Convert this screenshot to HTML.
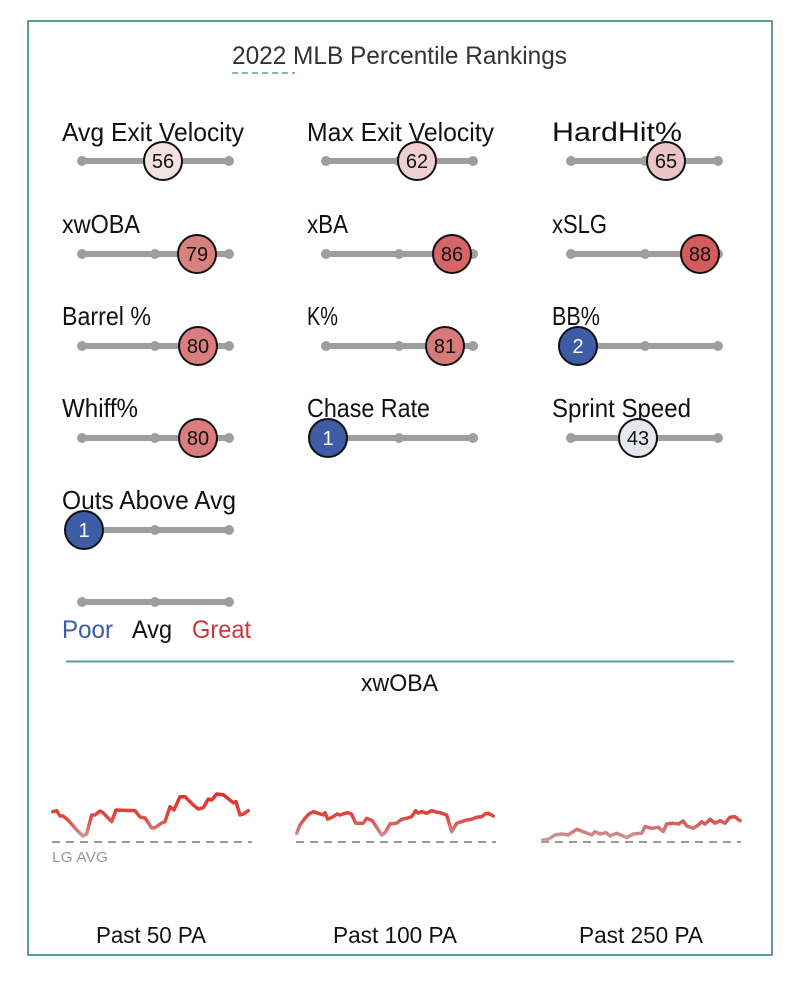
<!DOCTYPE html>
<html><head><meta charset="utf-8">
<style>
html,body{margin:0;padding:0;background:#fff;}
svg{display:block;}
text{font-family:"Liberation Sans Narrow","Liberation Sans",sans-serif;}
</style></head>
<body>
<svg width="801" height="986" viewBox="0 0 801 986" xmlns="http://www.w3.org/2000/svg">
<defs>
<linearGradient id="g1" gradientUnits="userSpaceOnUse" x1="0" y1="795" x2="0" y2="840">
<stop offset="0" stop-color="#e3302a"/><stop offset="0.5" stop-color="#dc4a42"/><stop offset="1" stop-color="#c99ea4"/>
</linearGradient>
</defs>
<rect x="28" y="21" width="744" height="934" fill="#fff" stroke="#5e9aa1" stroke-width="2"/>
<text x="232" y="64" font-size="25" fill="#333" textLength="335" lengthAdjust="spacingAndGlyphs">2022 MLB Percentile Rankings</text>
<line x1="232" y1="73" x2="295" y2="73" stroke="#5e9aa1" stroke-width="1.5" stroke-dasharray="6,4"/>

<g font-size="26" fill="#111">
<text x="62" y="141" textLength="182" lengthAdjust="spacingAndGlyphs">Avg Exit Velocity</text>
<text x="307" y="141" textLength="187" lengthAdjust="spacingAndGlyphs">Max Exit Velocity</text>
<text x="552" y="141" font-size="27" textLength="130" lengthAdjust="spacingAndGlyphs">HardHit%</text>
<text x="62" y="233" textLength="78" lengthAdjust="spacingAndGlyphs">xwOBA</text>
<text x="307" y="233" textLength="41" lengthAdjust="spacingAndGlyphs">xBA</text>
<text x="552" y="233" textLength="55" lengthAdjust="spacingAndGlyphs">xSLG</text>
<text x="62" y="325" textLength="89" lengthAdjust="spacingAndGlyphs">Barrel %</text>
<text x="307" y="325" textLength="31" lengthAdjust="spacingAndGlyphs">K%</text>
<text x="552" y="325" textLength="48" lengthAdjust="spacingAndGlyphs">BB%</text>
<text x="62" y="417" textLength="76" lengthAdjust="spacingAndGlyphs">Whiff%</text>
<text x="307" y="417" textLength="123" lengthAdjust="spacingAndGlyphs">Chase Rate</text>
<text x="552" y="417" textLength="139" lengthAdjust="spacingAndGlyphs">Sprint Speed</text>
<text x="62" y="509" textLength="174" lengthAdjust="spacingAndGlyphs">Outs Above Avg</text>
</g>

<g stroke="#9e9e9e" stroke-width="6" fill="#9e9e9e">
<line x1="82" y1="161" x2="229" y2="161"/><line x1="326" y1="161" x2="473" y2="161"/><line x1="571" y1="161" x2="718" y2="161"/>
<line x1="82" y1="254" x2="229" y2="254"/><line x1="326" y1="254" x2="473" y2="254"/><line x1="571" y1="254" x2="718" y2="254"/>
<line x1="82" y1="346" x2="229" y2="346"/><line x1="326" y1="346" x2="473" y2="346"/><line x1="571" y1="346" x2="718" y2="346"/>
<line x1="82" y1="438" x2="229" y2="438"/><line x1="326" y1="438" x2="473" y2="438"/><line x1="571" y1="438" x2="718" y2="438"/>
<line x1="82" y1="530" x2="229" y2="530"/>
<line x1="82" y1="602" x2="229" y2="602"/>
</g>
<g fill="#9e9e9e">
<circle cx="82" cy="161" r="5"/><circle cx="155" cy="161" r="5"/><circle cx="229" cy="161" r="5"/>
<circle cx="326" cy="161" r="5"/><circle cx="399" cy="161" r="5"/><circle cx="473" cy="161" r="5"/>
<circle cx="571" cy="161" r="5"/><circle cx="645" cy="161" r="5"/><circle cx="718" cy="161" r="5"/>
<circle cx="82" cy="254" r="5"/><circle cx="155" cy="254" r="5"/><circle cx="229" cy="254" r="5"/>
<circle cx="326" cy="254" r="5"/><circle cx="399" cy="254" r="5"/><circle cx="473" cy="254" r="5"/>
<circle cx="571" cy="254" r="5"/><circle cx="645" cy="254" r="5"/><circle cx="718" cy="254" r="5"/>
<circle cx="82" cy="346" r="5"/><circle cx="155" cy="346" r="5"/><circle cx="229" cy="346" r="5"/>
<circle cx="326" cy="346" r="5"/><circle cx="399" cy="346" r="5"/><circle cx="473" cy="346" r="5"/>
<circle cx="571" cy="346" r="5"/><circle cx="645" cy="346" r="5"/><circle cx="718" cy="346" r="5"/>
<circle cx="82" cy="438" r="5"/><circle cx="155" cy="438" r="5"/><circle cx="229" cy="438" r="5"/>
<circle cx="326" cy="438" r="5"/><circle cx="399" cy="438" r="5"/><circle cx="473" cy="438" r="5"/>
<circle cx="571" cy="438" r="5"/><circle cx="645" cy="438" r="5"/><circle cx="718" cy="438" r="5"/>
<circle cx="82" cy="530" r="5"/><circle cx="155" cy="530" r="5"/><circle cx="229" cy="530" r="5"/>
<circle cx="82" cy="602" r="5"/><circle cx="155" cy="602" r="5"/><circle cx="229" cy="602" r="5"/>
</g>

<g stroke="#111" stroke-width="2">
<circle cx="163" cy="161" r="19" fill="#f4e1e1"/>
<circle cx="417" cy="161" r="19" fill="#efd0d1"/>
<circle cx="666" cy="161" r="19" fill="#ebc4c5"/>
<circle cx="197" cy="254" r="19" fill="#d98081"/>
<circle cx="452" cy="254" r="19" fill="#d56566"/>
<circle cx="700" cy="254" r="19" fill="#d45b5b"/>
<circle cx="198" cy="346" r="19" fill="#d97d7e"/>
<circle cx="445" cy="346" r="19" fill="#d8797a"/>
<circle cx="578" cy="346" r="19" fill="#3d5ca5"/>
<circle cx="198" cy="438" r="19" fill="#d97d7e"/>
<circle cx="328" cy="438" r="19" fill="#3d5ca5"/>
<circle cx="638" cy="438" r="19" fill="#e6e7ef"/>
<circle cx="84" cy="530" r="19" fill="#3d5ca5"/>
</g>
<g font-size="20" text-anchor="middle" fill="#111">
<text x="163" y="168">56</text>
<text x="417" y="168">62</text>
<text x="666" y="168">65</text>
<text x="197" y="261">79</text>
<text x="452" y="261">86</text>
<text x="700" y="261">88</text>
<text x="198" y="353">80</text>
<text x="445" y="353">81</text>
<text x="578" y="353" fill="#fff">2</text>
<text x="198" y="445">80</text>
<text x="328" y="445" fill="#fff">1</text>
<text x="638" y="445">43</text>
<text x="84" y="537" fill="#fff">1</text>
</g>

<g font-size="25">
<text x="62" y="638" fill="#3d5ca5" textLength="51" lengthAdjust="spacingAndGlyphs">Poor</text>
<text x="132" y="638" fill="#111" textLength="40" lengthAdjust="spacingAndGlyphs">Avg</text>
<text x="192" y="638" fill="#c8383a" textLength="59" lengthAdjust="spacingAndGlyphs">Great</text>
</g>

<line x1="66" y1="661.5" x2="734" y2="661.5" stroke="#5e9aa1" stroke-width="2"/>
<text x="361" y="691" font-size="24" fill="#111" textLength="77" lengthAdjust="spacingAndGlyphs">xwOBA</text>

<g stroke="#999" stroke-width="2" stroke-dasharray="8,6">
<line x1="52" y1="842" x2="252" y2="842"/>
<line x1="296" y1="842" x2="496" y2="842"/>
<line x1="541" y1="842" x2="741" y2="842"/>
</g>
<text x="52" y="862" font-size="15" fill="#999" textLength="56" lengthAdjust="spacingAndGlyphs">LG AVG</text>

<g fill="none" stroke="url(#g1)" stroke-width="3.5" stroke-linejoin="round" stroke-linecap="round">
<polyline points="52.7,811.7 56.7,810.7 60,816 63,816 68,820 76.7,830 83,836 86.7,834 91.7,815 95,815 100,811 103,812.7 111.7,821.7 116,810 135,810.7 140,817 145,818 151.7,828 155,827.7 161.7,823 165,821.7 170,806.7 174,810 180,796.7 185,796.7 193.3,805 198.3,809 203.3,807.7 208.3,799 211.7,800 216.7,794 223.3,794.7 233.3,802.7 236,801.7 240,815 243.3,814 248.3,810.7"/>
<polyline points="296.7,833.3 300,825 305,818.3 309,814 313.3,811.7 318.3,813.3 323.3,815 325,812.7 327.7,819.3 333.3,816.7 337,814 340,815 345,813.3 348.3,812.7 351.7,814.3 355.7,823.3 363.3,823.3 366.7,818.3 372.3,820.7 381.7,835 385,832.7 390,824 396.7,823.3 401.7,819.3 406.7,818.3 411.7,816.7 415.7,810.7 418,813 421.7,811.7 426.7,813.3 431.7,810.7 436,812 440,812.7 446.7,815 451.7,831.7 456.7,823.3 461.7,821.7 466.7,820 471.7,819.3 476.7,817.3 481.7,816.7 485,814 488.3,813.3 493.3,816"/>
<polyline points="542.7,840 548.3,839.3 555,835 561.7,834 568.3,835 576.7,829.3 583.3,831.7 591.7,835 595,831.7 600,834 606,832.7 610,836 616.7,833.3 626.7,837.7 633.3,834 641.7,833.3 645,826.7 651.7,828.3 658.3,827.3 663.3,831.7 666.7,824 673.3,823.3 678.3,824 683.3,821 686.7,826 693.3,828.3 698.3,825 701.7,821.7 705,824.3 710,819.3 715,823.3 720,820.7 725,823.3 730,817.3 735,816.7 740,820.7"/>
</g>

<g font-size="23" fill="#111">
<text x="96" y="943" textLength="110" lengthAdjust="spacingAndGlyphs">Past 50 PA</text>
<text x="333" y="943" textLength="124" lengthAdjust="spacingAndGlyphs">Past 100 PA</text>
<text x="579" y="943" textLength="124" lengthAdjust="spacingAndGlyphs">Past 250 PA</text>
</g>
</svg>
</body></html>
